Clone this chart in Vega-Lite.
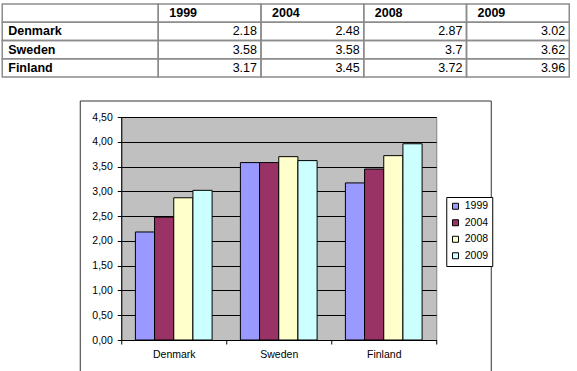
{
  "$schema": "https://vega.github.io/schema/vega-lite/v6.json",
  "background": "white",
  "padding": {"left": 1.25, "top": -10, "right": 0, "bottom": 0},
  "width": 315,
  "height": 223,
  "view": {"fill": "#C0C0C0", "stroke": "#808080", "strokeWidth": 1},
  "datasets": {
    "gdp": [
      {"country": "Denmark", "year": "1999", "value": 2.18},
      {"country": "Denmark", "year": "2004", "value": 2.48},
      {"country": "Denmark", "year": "2008", "value": 2.87},
      {"country": "Denmark", "year": "2009", "value": 3.02},
      {"country": "Sweden", "year": "1999", "value": 3.58},
      {"country": "Sweden", "year": "2004", "value": 3.58},
      {"country": "Sweden", "year": "2008", "value": 3.7},
      {"country": "Sweden", "year": "2009", "value": 3.62},
      {"country": "Finland", "year": "1999", "value": 3.17},
      {"country": "Finland", "year": "2004", "value": 3.45},
      {"country": "Finland", "year": "2008", "value": 3.72},
      {"country": "Finland", "year": "2009", "value": 3.96}
    ]
  },
  "config": {
    "font": "Liberation Sans",
    "axis": {"labelFont": "Liberation Sans", "labelColor": "black"},
    "legend": {"labelFont": "Liberation Sans"}
  },
  "resolve": {"scale": {"x": "independent", "y": "independent"}},
  "layer": [
    {
      "data": {"values": [{}]},
      "mark": {"type": "rect", "filled": false, "stroke": "#333333", "strokeWidth": 1, "clip": false},
      "encoding": {
        "x": {"datum": 0, "type": "quantitative", "scale": {"domain": [0, 1], "range": [-41, 370], "nice": false, "zero": false}, "axis": null},
        "x2": {"datum": 1},
        "y": {"datum": 0, "type": "quantitative", "scale": {"domain": [0, 1], "range": [255, -16], "nice": false, "zero": false}, "axis": null},
        "y2": {"datum": 1}
      }
    },
    {
      "data": {"name": "gdp"},
      "mark": {"type": "bar", "stroke": "black", "strokeWidth": 1},
      "encoding": {
        "x": {
          "field": "country", "type": "nominal", "sort": ["Denmark", "Sweden", "Finland"],
          "scale": {"paddingInner": 0, "paddingOuter": 0},
          "axis": {"orient": "bottom", "title": null, "labelAngle": 0, "labelFontSize": 10.5, "labelPadding": 5, "tickBand": "extent", "tickSize": 4, "tickColor": "black", "domainColor": "black", "grid": false}
        },
        "xOffset": {
          "field": "year", "type": "nominal",
          "scale": {"paddingInner": 0, "paddingOuter": 0.738}
        },
        "y": {
          "field": "value", "type": "quantitative",
          "scale": {"domain": [0, 4.5], "nice": false},
          "axis": {
            "orient": "left",
            "title": null,
            "values": [0, 0.5, 1, 1.5, 2, 2.5, 3, 3.5, 4, 4.5],
            "labelExpr": "replace(format(datum.value, '.2f'), '.', ',')",
            "labelFontSize": 10.5, "labelPadding": 5, "tickSize": 4, "tickColor": "black", "domainColor": "black",
            "grid": true, "gridColor": "black", "gridWidth": 1
          }
        },
        "color": {
          "field": "year", "type": "nominal",
          "scale": {"domain": ["1999", "2004", "2008", "2009"], "range": ["#9999FF", "#993366", "#FFFFCC", "#CCFFFF"]},
          "legend": {
            "title": null, "orient": "none", "legendX": 325, "legendY": 80,
            "symbolType": "square", "symbolSize": 36, "symbolStrokeColor": "black", "symbolStrokeWidth": 1,
            "labelFontSize": 10.5, "labelColor": "black", "labelOffset": 4,
            "strokeColor": "black", "fillColor": "white", "padding": 4, "rowPadding": 5.5
          }
        }
      }
    },
    {
      "encoding": {
        "x": {"datum": "label", "type": "nominal", "scale": {"domain": ["label"], "range": [-119, 37], "paddingInner": 0, "paddingOuter": 0}, "axis": null},
        "y": {"field": "country", "type": "nominal", "scale": {"domain": ["header", "Denmark", "Sweden", "Finland"], "range": [-113, -40], "paddingInner": 0, "paddingOuter": 0}, "axis": null}
      },
      "layer": [
        {
          "data": {"values": [{}]},
          "mark": {"type": "rect", "filled": false, "stroke": "#8c8c8c", "strokeWidth": 1.5, "clip": false},
          "encoding": {"y": {"datum": "header", "type": "nominal"}}
        },
        {
          "data": {"name": "gdp"},
          "transform": [{"filter": "datum.year === '1999'"}],
          "layer": [
            {"mark": {"type": "rect", "filled": false, "stroke": "#8c8c8c", "strokeWidth": 1.5, "clip": false}},
            {
              "mark": {"type": "text", "align": "left", "baseline": "middle", "dx": 6, "fontWeight": "bold", "fontSize": 12.5, "color": "black", "clip": false},
              "encoding": {
                "x": {"datum": "label", "type": "nominal", "bandPosition": 0},
                "text": {"field": "country", "type": "nominal"}
              }
            }
          ]
        }
      ]
    },
    {
      "encoding": {
        "x": {"field": "year", "type": "nominal", "scale": {"domain": ["1999", "2004", "2008", "2009"], "range": [37, 448], "paddingInner": 0, "paddingOuter": 0}, "axis": null},
        "y": {"field": "country", "type": "nominal", "scale": {"domain": ["header", "Denmark", "Sweden", "Finland"], "range": [-113, -40], "paddingInner": 0, "paddingOuter": 0}, "axis": null}
      },
      "layer": [
        {
          "data": {"name": "gdp"},
          "layer": [
            {"mark": {"type": "rect", "filled": false, "stroke": "#8c8c8c", "strokeWidth": 1.5, "clip": false}},
            {
              "mark": {"type": "text", "align": "right", "baseline": "middle", "dx": -4, "fontSize": 12.5, "color": "black", "clip": false},
              "encoding": {
                "x": {"field": "year", "type": "nominal", "bandPosition": 1},
                "text": {"field": "value", "type": "nominal"}
              }
            }
          ]
        },
        {
          "data": {"name": "gdp"},
          "transform": [{"aggregate": [{"op": "count", "as": "n"}], "groupby": ["year"]}],
          "layer": [
            {
              "mark": {"type": "rect", "filled": false, "stroke": "#8c8c8c", "strokeWidth": 1.5, "clip": false},
              "encoding": {"y": {"datum": "header", "type": "nominal"}}
            },
            {
              "mark": {"type": "text", "align": "left", "baseline": "middle", "dx": 11, "fontWeight": "bold", "fontSize": 12.5, "color": "black", "clip": false},
              "encoding": {
                "x": {"field": "year", "type": "nominal", "bandPosition": 0},
                "y": {"datum": "header", "type": "nominal"},
                "text": {"field": "year", "type": "nominal"}
              }
            }
          ]
        },
        {
          "data": {"values": [{}]},
          "mark": {"type": "text", "text": "% of GDP", "align": "right", "baseline": "bottom", "dy": -1, "fontSize": 12, "color": "black", "clip": false},
          "encoding": {
            "x": {"datum": "2009", "type": "nominal", "bandPosition": 1},
            "y": {"datum": "header", "type": "nominal", "bandPosition": 0}
          }
        }
      ]
    }
  ]
}
